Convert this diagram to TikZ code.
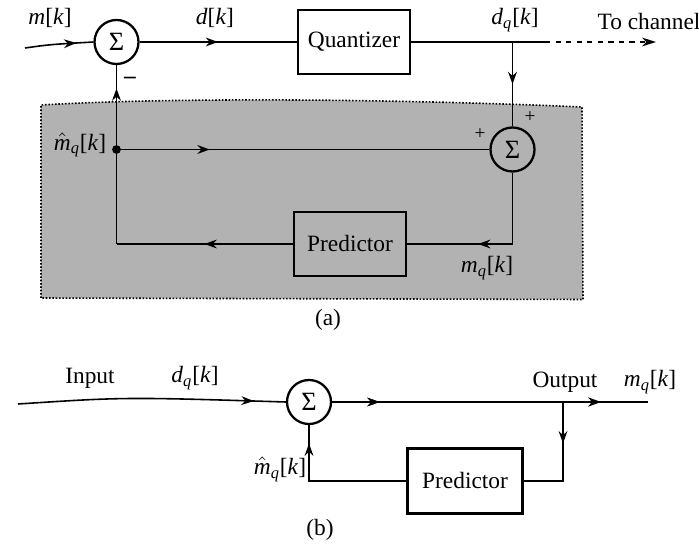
\documentclass[tikz,border=0pt]{standalone}
\usepackage{fontspec}
\setmainfont{Liberation Serif}
\usepackage{tikz}
\usetikzlibrary{positioning,calc,arrows.meta,decorations.markings}

\newcommand{\sig}[2]{\textit{#1}\textsubscript{\textit{#2}}[\textit{k}]}
\newcommand{\sighat}[2]{$\hat{\mbox{\textit{#1}}}$\textsubscript{\textit{#2}}[\textit{k}]}

\tikzset{
  sumnode/.style={circle, draw, line width=1.3pt, minimum size=0.88cm, inner sep=0pt, font=\fontsize{15}{15}\selectfont},
  blockbox/.style={draw, line width=1.4pt, minimum width=2.25cm, minimum height=1.27cm},
  sigline/.style={line width=0.9pt},
  midarrow/.style={postaction={decorate}, decoration={markings,
      mark=at position #1 with {\arrow{Stealth[length=7pt,width=5pt]}}}},
  lbl/.style={inner sep=1pt}
}

\begin{document}
\begin{tikzpicture}[font=\fontsize{13.3}{16}\selectfont]
  \useasboundingbox (0,0) rectangle (13.98,10.94);

  % shaded prediction loop of (a)
  \fill[black!30] (0.82,4.98) -- (0.82,8.84) .. controls (3.5,9.0) and (8,8.96) .. (11.64,8.8)
    -- (11.66,4.95) -- cycle;
  \draw[densely dotted, line width=0.9pt] (0.82,4.98) -- (0.82,8.84) .. controls (3.5,9.0) and (8,8.96) .. (11.64,8.8)
    -- (11.66,4.95) -- cycle;

  % (a) encoder
  \node[sumnode] (sumA) at (2.33,10.1) {Σ};
  \node[blockbox] (quant) at (7.08,10.1) {Quantizer};
  \node[sumnode] (sumB) at (10.25,7.95) {Σ};
  \node[blockbox] (predA) at (7.0,6.06) {Predictor};

  \coordinate (inA) at (0.5,9.98);
  \coordinate (tapQ) at (10.25,10.1);
  \coordinate (dashS) at (10.9,10.1);
  \coordinate (chan) at (13.12,10.1);
  \coordinate (tapM) at (2.33,7.95);
  \coordinate (cornA) at (2.33,6.06);
  \coordinate (cornB) at (10.25,6.06);

  \draw[sigline, midarrow=0.75] (inA) .. controls (1.0,10.05) .. (sumA.west);
  \draw[sigline, midarrow=0.5] (sumA.east) -- (quant.west);
  \draw[sigline] (quant.east) -- (dashS);
  \draw[sigline, dashed, -{Stealth[length=8pt,width=5pt]}] (dashS) -- (chan);
  \draw[sigline, midarrow=0.5] (tapQ) -- (sumB.north);
  \draw[sigline, midarrow=0.25] (tapM) -- (sumB.west);
  \draw[sigline, midarrow=0.6] (sumB.south) -- (cornB) -- (predA.east);
  \draw[sigline, midarrow=0.5] (predA.west) -- (cornA);
  \draw[sigline, midarrow=0.87] (cornA) -- (sumA.south);
  \fill (tapM) circle (2.5pt);

  \node[lbl] (lm) at (1.0,10.58) {\textit{m}[\textit{k}]};
  \node[lbl] (ld) at (4.3,10.58) {\textit{d}[\textit{k}]};
  \node[lbl] (ldq) at (10.3,10.54) {\sig{d}{q}};
  \node[lbl] (lchan) at (12.98,10.5) {To channel};
  \node[lbl] (lminus) at (2.6,9.34) {\textbf{–}};
  \node[lbl, font=\fontsize{11}{11}\selectfont] (lplusA) at (10.6,8.6) {+};
  \node[lbl, font=\fontsize{11}{11}\selectfont] (lplusB) at (9.6,8.26) {+};
  \node[lbl] (lmh) at (1.6,8.04) {\sighat{m}{q}};
  \node[lbl] (lmq) at (9.74,5.58) {\sig{m}{q}};
  \node[lbl] (capA) at (6.56,4.54) {(a)};

  % (b) decoder
  \node[sumnode] (sumC) at (6.18,2.9) {Σ};
  \node[blockbox, minimum width=2.3cm, minimum height=1.3cm] (predB) at (9.3,1.32) {Predictor};

  \coordinate (inB) at (0.36,2.86);
  \coordinate (outB) at (12.96,2.9);
  \coordinate (tapB) at (11.26,2.9);
  \coordinate (cornC) at (11.26,1.32);
  \coordinate (cornD) at (6.18,1.32);

  \draw[sigline, midarrow=0.88] (inB) .. controls (2.5,3.0) .. (sumC.west);
  \draw[sigline, midarrow=0.15, midarrow=0.85] (sumC.east) -- (outB);
  \draw[sigline, midarrow=0.35] (tapB) -- (cornC) -- (predB.east);
  \draw[sigline, midarrow=0.88] (predB.west) -- (cornD) -- (sumC.south);

  \node[lbl] (lin) at (1.8,3.38) {Input};
  \node[lbl] (ldqB) at (3.9,3.38) {\sig{d}{q}};
  \node[lbl] (lout) at (11.3,3.3) {Output};
  \node[lbl] (lmqB) at (13.0,3.3) {\sig{m}{q}};
  \node[lbl] (lmhB) at (5.6,1.56) {\sighat{m}{q}};
  \node[lbl] (capB) at (6.4,0.34) {(b)};
\end{tikzpicture}
\end{document}
